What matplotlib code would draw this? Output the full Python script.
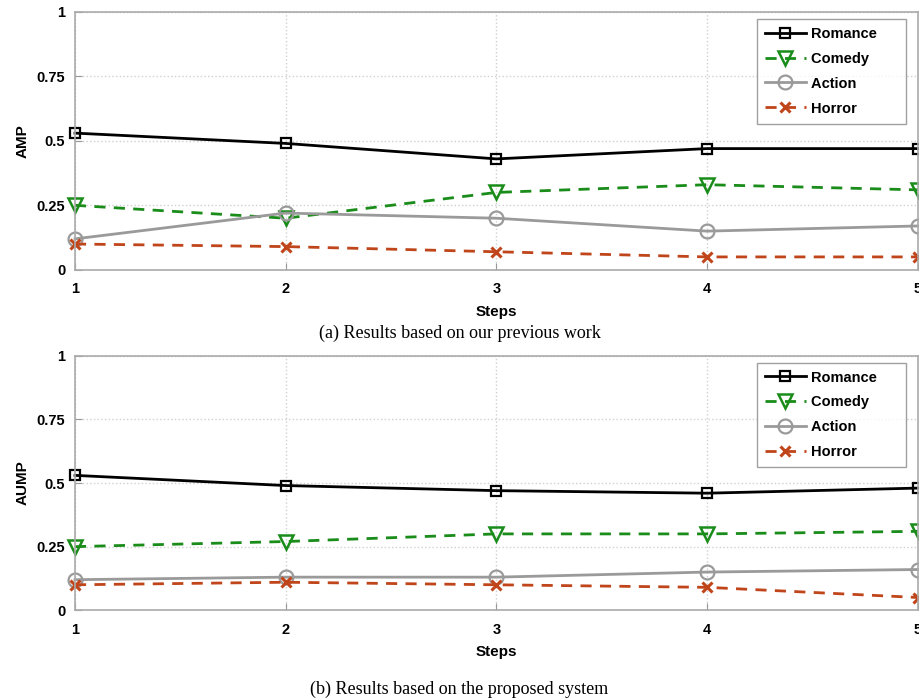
import matplotlib.pyplot as plt

steps = [1, 2, 3, 4, 5]
genres = ['Romance', 'Comedy', 'Action', 'Horror']

# (a) previous work
amp_romance = [0.53, 0.49, 0.43, 0.47, 0.47]
amp_comedy = [0.25, 0.20, 0.30, 0.33, 0.31]
amp_action = [0.12, 0.22, 0.20, 0.15, 0.17]
amp_horror = [0.10, 0.09, 0.07, 0.05, 0.05]

# (b) proposed system
aump_romance = [0.53, 0.49, 0.47, 0.46, 0.48]
aump_comedy = [0.25, 0.27, 0.30, 0.30, 0.31]
aump_action = [0.12, 0.13, 0.13, 0.15, 0.16]
aump_horror = [0.10, 0.11, 0.10, 0.09, 0.05]

yticks = [0, 0.25, 0.5, 0.75, 1]
ytick_labels = ['0', '0.25', '0.5', '0.75', '1']

styles = [
    dict(color='black', linestyle='-', marker='s', ms=7, mfc='none', mew=1.6),
    dict(color='#1a8c1a', linestyle='--', marker='v', ms=10, mfc='none', mew=1.8),
    dict(color='#9a9a9a', linestyle='-', marker='o', ms=10, mfc='none', mew=1.6),
    dict(color='#c0451a', linestyle='--', marker='x', ms=7, mew=2.2),
]

plt.rcParams['font.family'] = ['Liberation Sans', 'DejaVu Sans']

fig = plt.figure(figsize=(9.19, 6.99), dpi=100)
ax1 = fig.add_axes([0.0816, 0.614, 0.917, 0.369])
ax2 = fig.add_axes([0.0816, 0.127, 0.917, 0.364])

panels = [
    (ax1, [amp_romance, amp_comedy, amp_action, amp_horror], 'AMP',
     '(a) Results based on our previous work', 0.523),
    (ax2, [aump_romance, aump_comedy, aump_action, aump_horror], 'AUMP',
     '(b) Results based on the proposed system', 0.014),
]

for ax, series, ylab, caption, cap_y in panels:
    for name, vals, st in zip(genres, series, styles):
        # trailing spaces give the wide right margin of the original legend box
        line, = ax.plot(steps, vals, lw=2, label=name + '     ', clip_on=False, **st)
        if st['linestyle'] == '--':
            line.set_dashes((4, 3))
    ax.set_xlim(1, 5)
    ax.set_ylim(0, 1)
    ax.set_xticks(steps)
    ax.set_yticks(yticks)
    ax.set_yticklabels(ytick_labels)
    ax.tick_params(direction='in', length=5, color='#999999', labelsize=10.5)
    ax.tick_params(axis='x', pad=9)
    ax.tick_params(axis='y', pad=7)
    for lbl in ax.get_xticklabels() + ax.get_yticklabels():
        lbl.set_fontweight('bold')
    for sp in ax.spines.values():
        sp.set_color('#aaaaaa')
        sp.set_linewidth(1.2)
    ax.grid(True, ls=':', color='#d0d0d0', lw=1)
    ax.set_xlabel('Steps', fontsize=11, fontweight='bold', labelpad=6)
    ax.set_ylabel(ylab, fontsize=11, fontweight='bold', labelpad=5)
    leg = ax.legend(loc='upper right', bbox_to_anchor=(0.989, 0.985),
                    prop={'weight': 'bold', 'size': 10.5}, fancybox=False,
                    handlelength=2.8, labelspacing=0.75, borderpad=0.55,
                    handletextpad=0.35, borderaxespad=0.2)
    leg.get_frame().set_edgecolor('#888888')
    leg.get_frame().set_linewidth(1)
    fig.text(0.5, cap_y, caption, ha='center', va='center', fontsize=13,
             family='Liberation Serif')

fig.savefig('out.png', dpi=100)
